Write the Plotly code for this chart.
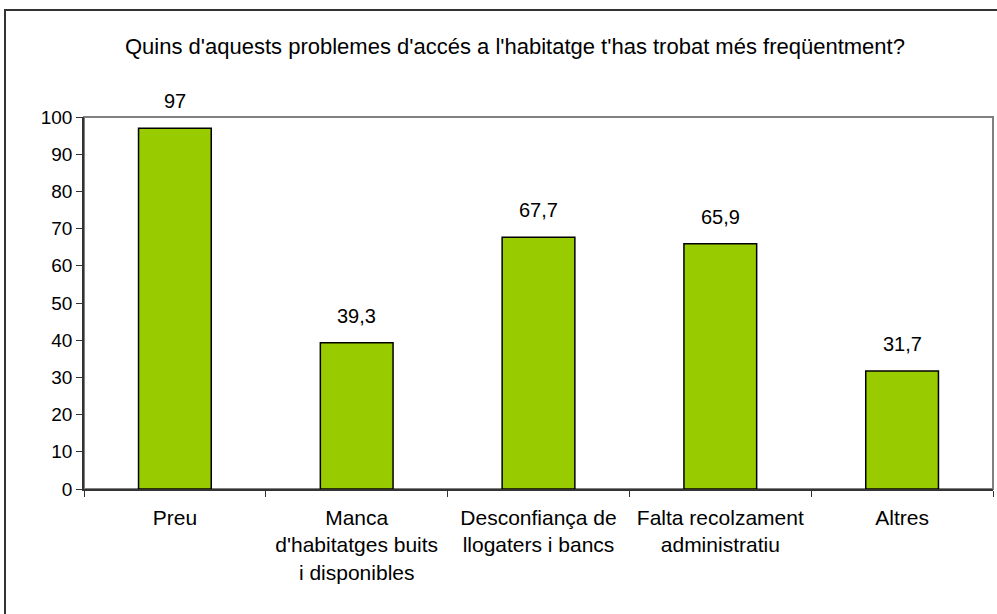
import plotly.graph_objects as go

categories = ["Preu", "Manca<br>d'habitatges buits<br>i disponibles", "Desconfiança de<br>llogaters i bancs",
              "Falta recolzament<br>administratiu", "Altres"]
values = [97, 39.3, 67.7, 65.9, 31.7]
labels = [f"{v:g}".replace(".", ",") for v in values]
y_ticks = list(range(0, 101, 10))
title = "Quins d'aquests problemes d'accés a l'habitatge t'has trobat més freqüentment?"

FONT = "Liberation Sans, Arial, sans-serif"
L, R, T, B = 84, 4, 117, 125
W, H = 997, 614
pw, ph = W - L - R, H - T - B

fig = go.Figure()
fig.add_trace(go.Bar(
    x=categories, y=values,
    width=0.4,
    marker=dict(color="#99CC00", line=dict(color="#000000", width=1.5)),
    hoverinfo="skip",
))

for c, v, t in zip(categories, values, labels):
    fig.add_annotation(x=c, y=v, text=t, showarrow=False, yanchor="bottom",
                       yshift=14, font=dict(family=FONT, size=20, color="#000"))

fig.add_annotation(xref="paper", yref="paper", x=(515 - L) / pw, y=(H - B - 47) / ph,
                   text=title, showarrow=False, xanchor="center", yanchor="middle",
                   font=dict(family=FONT, size=22, color="#000"))

# plot area border (gray)
fig.add_shape(type="rect", xref="paper", yref="paper", x0=0, y0=0, x1=1, y1=1,
              line=dict(color="#808080", width=2), layer="below")
# outer chart border
fig.add_shape(type="rect", xref="paper", yref="paper",
              x0=(5 - L) / pw, y0=(H - B - 10) / ph, x1=(W + 20 - L) / pw, y1=(H - B - (H + 20)) / ph,
              line=dict(color="#333333", width=2))

fig.update_layout(
    width=W, height=H,
    margin=dict(l=L, r=R, t=T, b=B),
    paper_bgcolor="white", plot_bgcolor="white",
    showlegend=False,
    font=dict(family=FONT, size=21, color="#000"),
    xaxis=dict(
        tickson="boundaries", ticks="outside", ticklen=6, tickcolor="#333",
        showline=True, linecolor="#333", linewidth=1.5,
        showgrid=False, tickfont=dict(family=FONT, size=21, color="#000"),
        ticklabelstandoff=9,
    ),
    yaxis=dict(
        range=[0, 100], tickvals=y_ticks, ticks="outside", ticklen=6, tickcolor="#333",
        showline=True, linecolor="#333", linewidth=1.5,
        showgrid=False, zeroline=False, tickfont=dict(family=FONT, size=19, color="#000"),
    ),
)

fig.write_html("out.html", config={"displayModeBar": False},
               post_script="document.body.style.margin='0';document.body.style.overflow='hidden';")
